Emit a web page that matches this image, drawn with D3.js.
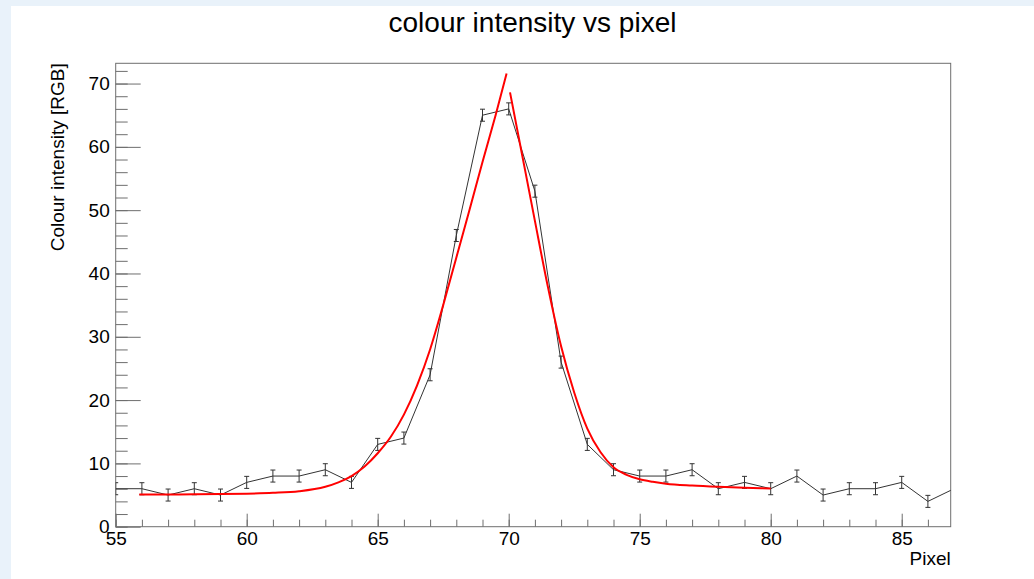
<!DOCTYPE html>
<html>
<head>
<meta charset="utf-8">
<script src="https://cdn.jsdelivr.net/npm/d3@7"></script>
<style>
  html, body { margin: 0; padding: 0; background: #e9f2fa; }
  svg { display: block; }
  text { font-family: "Liberation Sans", Arial, sans-serif; }
</style>
</head>
<body>
<svg id="chart" width="1034" height="579"></svg>
<script>
// ---- data ----
const pixels = [55,56,57,58,59,60,61,62,63,64,65,66,67,68,69,70,71,72,73,74,75,76,77,78,79,80,81,82,83,84,85,86,87];
const intensity = [6,6,5,6,5,7,8,8,9,7,13,14,24,46,65,66,53,26,13,9,8,8,9,6,7,6,8,5,6,6,7,4,6];
const errors = [0.95,0.95,0.95,0.95,0.95,0.95,0.95,0.95,0.95,0.95,0.95,0.95,0.95,0.95,0.95,0.95,0.95,0.95,0.95,0.95,0.95,0.95,0.95,0.95,0.95,0.95,0.95,0.95,0.95,0.95,0.95,0.95,0.95];

// fit curves (left and right halves)
const fitLeftX = [55.9,57,58,59,60,61,62,63,63.5,64,64.5,65,65.5,66,66.5,67,67.5,68,68.5,69,69.5,69.92];
const fitLeftY = [5.1,5.1,5.12,5.15,5.22,5.35,5.6,6.3,7.0,8.0,9.5,11.6,14.2,17.7,22.3,28.0,35.0,42.5,50.0,57.6,65.0,71.6];
const fitRightX = [70.05,70.5,71,71.5,72,72.5,73,73.5,74,74.5,75,75.5,76,77,78,79,80];
const fitRightY = [68.6,59.0,48.3,37.8,28.5,21.2,15.5,11.8,9.4,8.2,7.5,7.1,6.8,6.5,6.3,6.15,6.05];

const xMajorTicks = [55,60,65,70,75,80,85];
const yMajorTicks = [0,10,20,30,40,50,60,70];

const title = "colour intensity vs pixel";
const xTitle = "Pixel";
const yTitle = "Colour intensity [RGB]";

// ---- layout ----
const W = 1034, H = 579;
const frame = { left: 115.7, right: 950.7, top: 63.3, bottom: 526.7 };
const svg = d3.select("#chart");

svg.append("rect").attr("x", 11).attr("y", 6).attr("width", W - 11).attr("height", H - 6).attr("fill", "#ffffff");

const x = d3.scaleLinear().domain([55, 86.87]).range([frame.left, frame.right]);
const y = d3.scaleLinear().domain([0, 73.2]).range([frame.bottom, frame.top]);

const axisColor = "#6e6e6e";

// clip
svg.append("defs").append("clipPath").attr("id", "clip")
  .append("rect").attr("x", frame.left).attr("y", frame.top)
  .attr("width", frame.right - frame.left).attr("height", frame.bottom - frame.top);

// frame
svg.append("rect").attr("x", frame.left).attr("y", frame.top)
  .attr("width", frame.right - frame.left).attr("height", frame.bottom - frame.top)
  .attr("fill", "none").attr("stroke", axisColor).attr("stroke-width", 1);

// x axis
const xMinor = d3.range(55, 87, 1);
const gxMinor = svg.append("g").attr("transform", `translate(0,${frame.bottom})`)
  .call(d3.axisBottom(x).tickValues(xMinor).tickSize(-7).tickFormat(""));
const gx = svg.append("g").attr("transform", `translate(0,${frame.bottom})`)
  .call(d3.axisBottom(x).tickValues(xMajorTicks).tickSize(-13).tickPadding(5).tickFormat(d3.format("d")));

// y axis
const yMinor = d3.range(0, 73, 2);
const gyMinor = svg.append("g").attr("transform", `translate(${frame.left},0)`)
  .call(d3.axisLeft(y).tickValues(yMinor).tickSize(-12).tickFormat(""));
const gy = svg.append("g").attr("transform", `translate(${frame.left},0)`)
  .call(d3.axisLeft(y).tickValues(yMajorTicks).tickSize(-25).tickPadding(6).tickFormat(d3.format("d")));

[gxMinor, gx, gyMinor, gy].forEach(g => {
  g.select(".domain").remove();
  g.selectAll(".tick line").attr("stroke", axisColor);
  g.selectAll(".tick text").attr("fill", "#000").style("font-size", "19px")
    .style("font-family", "'Liberation Sans', Arial, sans-serif");
});

// data
const pts = pixels.map((p, i) => ({ x: p, y: intensity[i], e: errors[i] }));
const plot = svg.append("g").attr("clip-path", "url(#clip)");

plot.append("path").datum(pts)
  .attr("d", d3.line().x(d => x(d.x)).y(d => y(d.y)))
  .attr("fill", "none").attr("stroke", "#333").attr("stroke-width", 1);

const eb = plot.append("g").attr("stroke", "#333").attr("stroke-width", 1);
pts.forEach(d => {
  const cx = x(d.x), y1 = y(d.y - d.e), y2 = y(d.y + d.e);
  eb.append("line").attr("x1", cx).attr("x2", cx).attr("y1", y1).attr("y2", y2);
  eb.append("line").attr("x1", cx - 2.5).attr("x2", cx + 2.5).attr("y1", y1).attr("y2", y1);
  eb.append("line").attr("x1", cx - 2.5).attr("x2", cx + 2.5).attr("y1", y2).attr("y2", y2);
});

// fits
const fitLine = d3.line().x(d => x(d[0])).y(d => y(d[1])).curve(d3.curveMonotoneX);
plot.append("path").datum(fitLeftX.map((v, i) => [v, fitLeftY[i]]))
  .attr("d", fitLine).attr("fill", "none").attr("stroke", "#ff0000").attr("stroke-width", 2);
plot.append("path").datum(fitRightX.map((v, i) => [v, fitRightY[i]]))
  .attr("d", fitLine).attr("fill", "none").attr("stroke", "#ff0000").attr("stroke-width", 2);

// titles
svg.append("text").attr("x", 532.5).attr("y", 32).attr("text-anchor", "middle")
  .style("font-size", "28px").attr("fill", "#000").text(title);
svg.append("text").attr("x", frame.right).attr("y", 565).attr("text-anchor", "end")
  .style("font-size", "19px").attr("fill", "#000").text(xTitle);
svg.append("text").attr("transform", `translate(64,${frame.top}) rotate(-90)`)
  .attr("text-anchor", "end").style("font-size", "19px").attr("fill", "#000").text(yTitle);
</script>
</body>
</html>
